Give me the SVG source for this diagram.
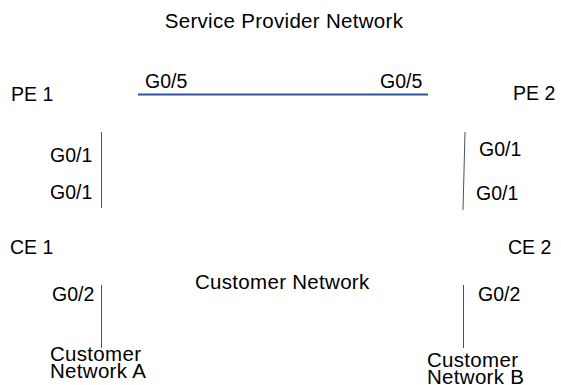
<svg xmlns="http://www.w3.org/2000/svg" width="561" height="385" viewBox="0 0 561 385">
<style>
text{font-family:"Liberation Sans",Arial,sans-serif;font-size:19.5px;fill:#000}
.big{font-size:20.5px;letter-spacing:0.3px}
.c{stroke:#44546A;stroke-width:1;fill:none}
.b{stroke:#2F5597;stroke-width:2;fill:none}
</style>
<rect width="561" height="385" fill="#fff"/>
<g id="connectors">
<line class="b" x1="138" y1="94.5" x2="428" y2="94.5"/>
<line class="c" x1="101.5" y1="132" x2="101.5" y2="208"/>
<line class="c" x1="465" y1="132" x2="463" y2="210" stroke="#2F5597"/>
<line class="c" x1="101.5" y1="285" x2="101.5" y2="348"/>
<line class="c" x1="463.5" y1="285" x2="463.5" y2="348"/>
</g>
<g id="title"><text class="big" x="284" y="28" text-anchor="middle">Service Provider Network</text></g>
<g id="pe1"><text x="11" y="101">PE 1</text><text x="145" y="88">G0/5</text><text x="50" y="162">G0/1</text></g>
<g id="pe2"><text x="513" y="100">PE 2</text><text x="380" y="88">G0/5</text><text x="479" y="156">G0/1</text></g>
<g id="ce1"><text x="10" y="254">CE 1</text><text x="50" y="199">G0/1</text><text x="52" y="301">G0/2</text></g>
<g id="ce2"><text x="508" y="254">CE 2</text><text x="476" y="200">G0/1</text><text x="478" y="301">G0/2</text></g>
<g id="customer-network"><text class="big" x="195" y="289">Customer Network</text></g>
<g id="network-a"><text class="big" x="50" y="361">Customer</text><text class="big" x="50" y="378">Network A</text></g>
<g id="network-b"><text class="big" x="427" y="367">Customer</text><text class="big" x="427" y="384">Network B</text></g>
</svg>
